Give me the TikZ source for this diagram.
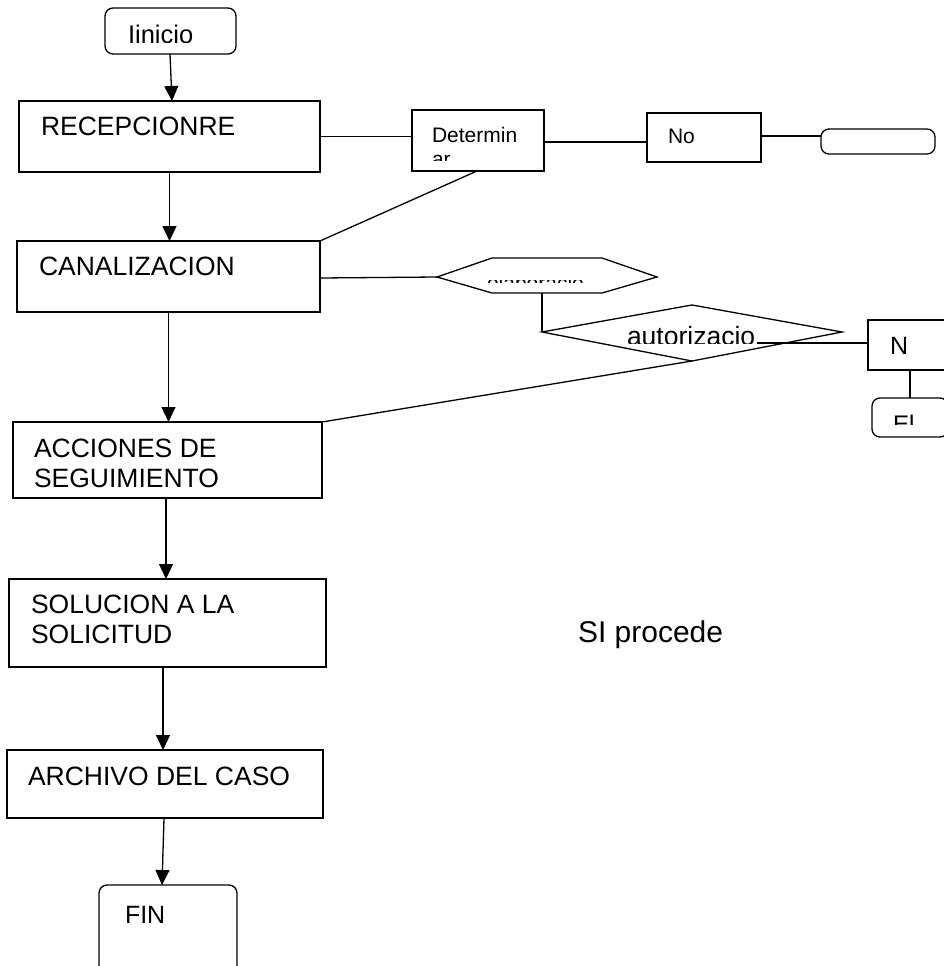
\documentclass[tikz,border=0pt]{standalone}
\usepackage{fontspec}
\setmainfont{Liberation Sans}
\usetikzlibrary{arrows.meta}
\begin{document}
\begin{tikzpicture}[x=1pt,y=-1pt,
  box/.style={draw, line width=1.3pt, inner sep=0pt, outer sep=0pt},
  rbox/.style={box, rounded corners=8pt},
  lbl/.style={anchor=base west, inner sep=0pt, outer sep=0pt, font=\fontsize{26.5}{30}\selectfont},
  sml/.style={lbl, font=\fontsize{21}{24}\selectfont},
  ln/.style={line width=1.3pt},
  arr/.style={ln, -{Triangle[length=15pt,width=14pt]}}]
\useasboundingbox (0,0) rectangle (944,966);
\clip (0,0) rectangle (944,966);
\fill[white] (0,0) rectangle (944,966);

% main column boxes
\node[rbox, minimum width=131pt, minimum height=46pt] (ini) at (170.5,31) {};
\node[box, minimum width=301pt, minimum height=71pt] (rec) at (169.5,136.5) {};
\node[box, minimum width=303pt, minimum height=71pt] (can) at (168.5,276.5) {};
\node[box, minimum width=309pt, minimum height=76pt] (acc) at (167.5,460) {};
\node[box, minimum width=317pt, minimum height=88pt] (sol) at (167.5,623) {};
\node[box, minimum width=316pt, minimum height=68pt] (arc) at (165,784) {};
\node[rbox, minimum width=138pt, minimum height=100pt] (fin) at (168,935) {};

% right side boxes
\node[box, minimum width=132pt, minimum height=61pt] (det) at (478,140.5) {};
\node[box, minimum width=114pt, minimum height=49pt] (no) at (704,137.5) {};
\node[rbox, minimum width=114pt, minimum height=25pt] (rr) at (878,141.5) {};
\node[box, minimum width=84pt, minimum height=50pt] (nn) at (910,345) {};
\node[rbox, minimum width=76pt, minimum height=39pt] (el) at (910,417.5) {};

% hexagon
\coordinate (hW) at (437,277);
\coordinate (hNW) at (492,258);
\coordinate (hNE) at (602,258);
\coordinate (hE) at (657,277);
\coordinate (hSE) at (602,293);
\coordinate (hSW) at (492,293);
\coordinate (hS) at (542,293);
\draw[ln] (hW) -- (hNW) -- (hNE) -- (hE) -- (hSE) -- (hSW) -- cycle;

% diamond
\coordinate (dW) at (542,332);
\coordinate (dN) at (692,305);
\coordinate (dE) at (842,332);
\coordinate (dS) at (692,361);
\coordinate (dT) at (757,343);
\draw[ln] (dW) -- (dN) -- (dE) -- (dS) -- cycle;

% texts
\begin{scope}
\clip (100,0) rectangle (240,43);
\node[lbl, font=\fontsize{25.5}{30}\selectfont] (tini) at (128,44) {Iinicio};
\end{scope}
\node[lbl] (trec) at (41,135) {RECEPCIONRE};
\node[lbl] (tcan) at (39,275) {CANALIZACION};
\node[lbl] (tacc1) at (34,457) {ACCIONES DE};
\node[lbl] (tacc2) at (34,487) {SEGUIMIENTO};
\node[lbl] (tsol1) at (31,613) {SOLUCION A LA};
\node[lbl] (tsol2) at (31,643) {SOLICITUD};
\node[lbl] (tarc) at (28,785) {ARCHIVO DEL CASO};
\node[lbl, font=\fontsize{25}{30}\selectfont] (tfin) at (125,923) {FIN};
\node[lbl, font=\fontsize{30}{36}\selectfont] (tsi) at (578,642) {SI procede};
\begin{scope}
\clip (412,100) rectangle (544,160);
\node[sml] (tdet1) at (432,142) {Determin};
\node[sml] (tdet2) at (432,166) {ar};
\end{scope}
\node[sml] (tno) at (668,143) {No};
\node[lbl, font=\fontsize{25}{30}\selectfont] (tn) at (890,354) {N};
\begin{scope}
\clip (872,398) rectangle (944,424);
\node[lbl, font=\fontsize{24}{30}\selectfont] (tel) at (893,432) {El};
\end{scope}
\begin{scope}
\clip (440,280) rectangle (650,282);
\node[sml] (thex) at (487,290) {elaboracio};
\end{scope}
\begin{scope}
\clip (560,300) rectangle (800,343);
\node[lbl, font=\fontsize{26.5}{30}\selectfont] (tdia) at (627,345.5) {autorizacio};
\end{scope}

% connectors
\draw[arr] ([xshift=-0.5pt]ini.south) -- ([xshift=2.5pt]rec.north);
\draw[arr] (rec.south) -- (rec.south |- can.north);
\draw[arr] (can.south) -- (can.south |- acc.north);
\draw[arr] ([xshift=-1.5pt]acc.south) -- ([xshift=-1.5pt]acc.south |- sol.north);
\draw[arr] ([xshift=-4.5pt]sol.south) -- ([xshift=-4.5pt]sol.south |- arc.north);
\draw[arr] ([xshift=-1pt]arc.south) -- ([xshift=-6pt]fin.north);

\draw[ln] (rec.east) -- (rec.east -| det.west);
\draw[ln] ([yshift=-1.5pt]det.east) -- ([yshift=-1.5pt]det.east -| no.west);
\draw[ln] ([yshift=1.5pt]no.east) -- ([yshift=1.5pt]no.east -| rr.west);
\draw[ln] ([xshift=-1pt]det.south) -- (can.north east);
\draw[ln] ([yshift=-1.5pt]can.east) -- (hW);
\draw[ln] (hS) -- (dW);
\draw[ln] (acc.north east) -- (dS);
\draw[ln] (dT) -- (dT -| nn.west);
\draw[ln] (nn.south) -- (el.north);
\end{tikzpicture}
\end{document}
